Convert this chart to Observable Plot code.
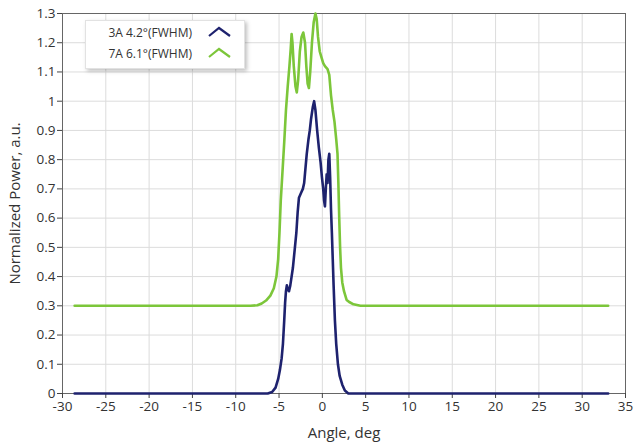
<!DOCTYPE html>
<html>
<head>
<meta charset="utf-8">
<script src="https://cdn.jsdelivr.net/npm/d3@7"></script>
<script src="https://cdn.jsdelivr.net/npm/@observablehq/plot@0.6"></script>
<style>
  body { margin: 0; background: #fff; }
  #wrap { position: relative; width: 635px; height: 448px; font-family: "Open Sans", sans-serif; }
  #legend { position: absolute; left: 85px; top: 20px; width: 158px; height: 47px; background: #fff;
    border: 1px solid #e2e2e2; box-shadow: 2px 2px 4px rgba(0,0,0,0.25); font-size: 12px; color: #333; }
  .row { position: absolute; left: 0; width: 106px; text-align: right; }
  .mk { position: absolute; left: 121px; }
</style>
</head>
<body>
<div id="wrap"></div>
<script>
const seriesNames = ["3A 4.2°(FWHM)", "7A 6.1°(FWHM)"];
const seriesColors = ["#1e226e", "#7cc63a"];
const xTicks = [-30, -25, -20, -15, -10, -5, 0, 5, 10, 15, 20, 25, 30, 35];
const yTicks = [0, 0.1, 0.2, 0.3, 0.4, 0.5, 0.6, 0.7, 0.8, 0.9, 1, 1.1, 1.2, 1.3];

const angle3A = [-28.6, -6.3, -5.8, -5.4, -5.1, -4.9, -4.7, -4.55, -4.4, -4.3, -4.2, -4.1, -4.0, -3.85, -3.7, -3.55, -3.4, -3.2, -3.0, -2.85, -2.7, -2.55, -2.4, -2.25, -2.1, -1.95, -1.8, -1.6, -1.45, -1.3, -1.1, -0.95, -0.8, -0.6, -0.4, -0.2, -0.05, 0.1, 0.2, 0.3, 0.4, 0.5, 0.6, 0.7, 0.8, 0.9, 1.0, 1.1, 1.2, 1.3, 1.45, 1.6, 1.8, 2.0, 2.3, 2.6, 3.0, 33.0];
const power3A = [0, 0, 0.005, 0.02, 0.05, 0.08, 0.12, 0.17, 0.25, 0.31, 0.35, 0.37, 0.355, 0.35, 0.37, 0.40, 0.43, 0.49, 0.55, 0.62, 0.67, 0.68, 0.69, 0.70, 0.72, 0.77, 0.82, 0.87, 0.90, 0.94, 0.98, 1.00, 0.97, 0.90, 0.84, 0.79, 0.74, 0.70, 0.66, 0.64, 0.70, 0.75, 0.72, 0.80, 0.82, 0.74, 0.63, 0.55, 0.46, 0.37, 0.25, 0.17, 0.10, 0.06, 0.03, 0.01, 0, 0];

const angle7A = [-28.6, -8.3, -7.5, -7.0, -6.5, -6.0, -5.6, -5.3, -5.1, -4.95, -4.8, -4.6, -4.4, -4.2, -4.0, -3.8, -3.65, -3.55, -3.45, -3.3, -3.1, -2.95, -2.8, -2.6, -2.4, -2.2, -2.0, -1.85, -1.7, -1.55, -1.4, -1.2, -1.0, -0.8, -0.65, -0.5, -0.3, -0.1, 0.1, 0.3, 0.6, 0.8, 1.0, 1.2, 1.4, 1.6, 1.75, 1.85, 1.95, 2.05, 2.15, 2.3, 2.5, 2.8, 3.1, 3.6, 4.4, 33.0];
const power7A = [0.3, 0.3, 0.302, 0.308, 0.318, 0.335, 0.36, 0.40, 0.46, 0.55, 0.66, 0.76, 0.86, 0.97, 1.05, 1.12, 1.18, 1.23, 1.20, 1.12, 1.05, 1.03, 1.07, 1.17, 1.22, 1.235, 1.20, 1.12, 1.06, 1.045, 1.10, 1.20, 1.27, 1.30, 1.28, 1.22, 1.17, 1.15, 1.13, 1.12, 1.11, 1.09, 1.02, 0.97, 0.93, 0.87, 0.82, 0.72, 0.60, 0.50, 0.43, 0.38, 0.35, 0.32, 0.313, 0.305, 0.30, 0.30];

const data = [
  ...angle3A.map((a, i) => ({angle: a, power: power3A[i], s: seriesNames[0]})),
  ...angle7A.map((a, i) => ({angle: a, power: power7A[i], s: seriesNames[1]}))
];

const fmt = d => String(+d.toFixed(2));
const font = "Open Sans, sans-serif";

const chart = Plot.plot({
  width: 635,
  height: 448,
  marginLeft: 62,
  marginRight: 10,
  marginTop: 13,
  marginBottom: 55,
  style: {fontFamily: font, fontSize: "13.5px", color: "#333", background: "#fff"},
  x: {domain: [-30, 35]},
  y: {domain: [0, 1.3]},
  color: {domain: seriesNames, range: seriesColors},
  marks: [
    Plot.gridX(xTicks, {stroke: "#dcdcdc", strokeOpacity: 1}),
    Plot.gridY(yTicks, {stroke: "#dcdcdc", strokeOpacity: 1}),
    Plot.frame({stroke: "#666"}),
    Plot.axisX({ticks: xTicks, tickFormat: fmt, tickSize: 5, tickPadding: 3, stroke: "#444", fontSize: 13.5,
      label: null}),
    Plot.axisY({ticks: yTicks, tickFormat: fmt, tickSize: 5, tickPadding: 2, stroke: "#444", fontSize: 13.5,
      label: null}),
    Plot.axisX({ticks: [], label: "Angle, deg", labelAnchor: "center", labelArrow: "none", labelOffset: 44, fontSize: 15}),
    Plot.axisY({ticks: [], label: "Normalized Power, a.u.", labelAnchor: "center", labelArrow: "none", labelOffset: 53, fontSize: 15}),
    Plot.line(data, {x: "angle", y: "power", z: "s", stroke: "s", strokeWidth: 2.6, curve: "linear"})
  ]
});

const wrap = document.getElementById("wrap");
wrap.appendChild(chart);

const legend = document.createElement("div");
legend.id = "legend";
seriesNames.forEach((name, i) => {
  const row = document.createElement("div");
  row.className = "row";
  row.style.top = (i === 0 ? 3 : 24) + "px";
  row.textContent = name;
  legend.appendChild(row);
  const mk = document.createElementNS("http://www.w3.org/2000/svg", "svg");
  mk.setAttribute("class", "mk");
  mk.setAttribute("width", 26);
  mk.setAttribute("height", 14);
  mk.style.top = (i === 0 ? 4 : 25) + "px";
  mk.innerHTML = `<path d="M2,11 L12,3 L23,11" fill="none" stroke="${seriesColors[i]}" stroke-width="2.2"/>`;
  legend.appendChild(mk);
});
wrap.appendChild(legend);
</script>
</body>
</html>
